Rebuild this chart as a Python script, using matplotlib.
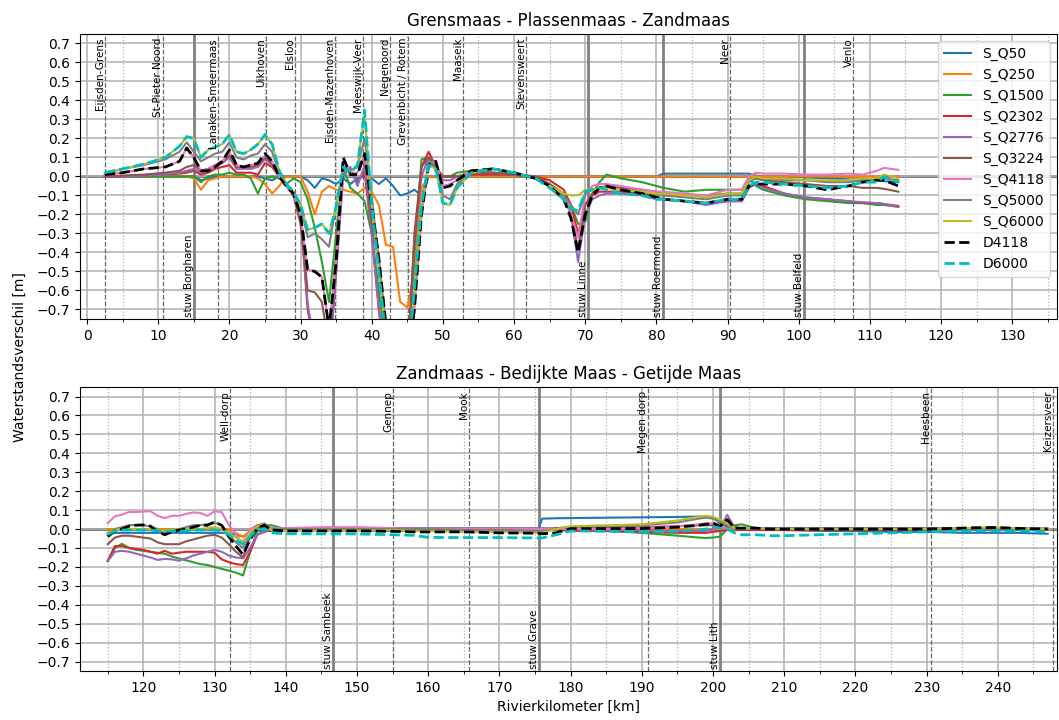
import numpy as np
import matplotlib
matplotlib.use('Agg')
import matplotlib.pyplot as plt
from matplotlib.ticker import MultipleLocator

# rivierkilometers of the output points, upper panel (Grensmaas - Zandmaas)
km_top = [2.5, 5, 8, 11, 13, 14, 15, 16, 17, 18,
          19, 20, 21, 22, 23, 24, 25, 26, 27, 28,
          29, 30, 31, 32, 33, 34, 35, 36, 37, 38,
          39, 40, 41, 42, 43, 44, 45, 46, 47, 48,
          49, 50, 51, 52, 54, 57, 60, 63, 65, 67,
          68, 69, 70, 71, 72, 73, 75, 78, 80, 81,
          84, 87, 90, 92, 93, 94, 95, 98, 101, 104,
          107, 109, 111, 112, 114]

top_q50 = [0, 0, 0, 0, 0, 0, 0, -0.02, -0.01, 0,
           0, 0, 0, 0, 0, 0, -0.01, -0.02, 0, 0,
           0, 0, -0.02, -0.06, -0.01, -0.02, -0.04, -0.01, -0.04, -0.01,
           0, -0.01, -0.04, -0.01, -0.05, -0.1, -0.09, -0.07, -0.1, 0,
           0, 0, 0, 0, 0, 0, 0, 0, 0, 0,
           0, 0, 0, 0, 0, 0, 0, 0, 0, 0.015,
           0.015, 0.015, 0.015, 0.015, 0.015, 0.005, 0, 0, -0.005, -0.01,
           -0.015, -0.02, -0.02, -0.025, -0.03]
top_q250 = [0, 0, 0, 0, 0, 0, -0.01, -0.07, -0.02, -0.01,
            0, 0, 0, 0, 0, -0.01, -0.04, -0.09, -0.05, 0,
            0, 0, -0.08, -0.2, -0.08, -0.05, -0.07, -0.07, -0.08, -0.09,
            -0.06, -0.08, -0.15, -0.36, -0.37, -0.66, -0.69, -0.5, -0.06, 0,
            0, 0, 0, 0, 0, 0, 0, 0, 0, 0,
            0, 0, 0, 0, 0, 0, 0, 0, 0, 0,
            0, 0, 0, 0, 0, 0, 0, 0, 0, 0,
            0, 0, 0, 0, 0]
top_q1500 = [0, 0, 0, 0, 0, 0, 0, -0.03, 0, 0.01,
             0.01, 0.02, 0.01, 0.01, -0.01, -0.09, -0.01, 0, -0.01, -0.04,
             -0.01, -0.03, -0.12, -0.27, -0.45, -0.66, -0.3, 0.05, -0.06, -0.09,
             -0.13, -0.3, -0.6, -0.9, -1.0, -1.0, -1.0, -0.4, 0.09, 0.1,
             0.03, 0, 0, 0.02, 0.03, 0.02, 0.01, -0.01, -0.04, -0.09,
             -0.15, -0.25, -0.24, -0.09, -0.03, 0.01, -0.01, -0.03, -0.05, -0.06,
             -0.08, -0.07, -0.07, -0.07, -0.01, -0.05, -0.07, -0.1, -0.12, -0.13,
             -0.14, -0.14, -0.15, -0.15, -0.16]
top_q2302 = [0, 0, 0.005, 0.01, 0.015, 0.02, 0.03, 0.01, 0.02, 0.04,
             0.05, 0.06, 0.02, 0.02, 0.02, 0.01, 0.07, 0.05, 0, -0.05,
             -0.08, -0.2, -0.7, -0.9, -1.0, -1.0, -0.5, 0.05, 0.03, -0.03,
             0.02, -0.3, -0.7, -1.0, -1.0, -1.0, -1.0, -0.3, 0.05, 0.13,
             0.05, 0, 0, 0, 0.01, 0.01, 0.01, 0, -0.02, -0.07,
             -0.15, -0.3, -0.15, -0.1, -0.08, -0.08, -0.08, -0.09, -0.11, -0.12,
             -0.13, -0.14, -0.13, -0.13, -0.06, -0.03, -0.05, -0.09, -0.11, -0.12,
             -0.13, -0.14, -0.14, -0.145, -0.155]
top_q2776 = [0, 0, 0.005, 0.01, 0.02, 0.03, 0.04, 0.02, 0.03, 0.05,
             0.07, 0.1, 0.04, 0.04, 0.04, 0.05, 0.09, 0.06, 0, -0.05,
             -0.09, -0.2, -0.67, -0.9, -1.0, -1.0, -0.5, 0.0, 0.05, -0.05,
             0.06, -0.3, -0.7, -1.0, -1.0, -1.0, -1.0, -0.35, 0.0, 0.1,
             0.05, -0.02, -0.02, 0, 0.02, 0.02, 0.01, 0, -0.04, -0.1,
             -0.2, -0.45, -0.2, -0.12, -0.1, -0.09, -0.09, -0.1, -0.12, -0.12,
             -0.13, -0.15, -0.13, -0.13, -0.05, -0.04, -0.06, -0.09, -0.11, -0.12,
             -0.13, -0.135, -0.14, -0.145, -0.16]
top_q3224 = [0, 0.005, 0.01, 0.02, 0.03, 0.05, 0.06, 0.03, 0.04, 0.06,
             0.08, 0.11, 0.05, 0.05, 0.05, 0.06, 0.1, 0.07, 0, -0.05,
             -0.1, -0.25, -0.6, -0.61, -0.66, -0.9, -0.4, 0.05, 0.03, 0.05,
             0.1, -0.25, -0.45, -0.9, -1.0, -1.0, -1.0, -0.35, 0.05, 0.1,
             0.05, 0, 0, 0, 0.02, 0.02, 0.01, 0, -0.04, -0.1,
             -0.2, -0.38, -0.15, -0.09, -0.06, -0.05, -0.06, -0.07, -0.08, -0.09,
             -0.1, -0.1, -0.09, -0.09, -0.02, -0.01, -0.02, -0.03, -0.04, -0.05,
             -0.05, -0.06, -0.06, -0.065, -0.08]
top_q4118 = [0.01, 0.02, 0.04, 0.05, 0.08, 0.15, 0.1, 0.03, 0.04, 0.06,
             0.08, 0.13, 0.06, 0.05, 0.06, 0.07, 0.11, 0.08, 0.0, -0.05,
             -0.09, -0.2, -0.49, -0.5, -0.53, -0.8, -0.45, 0.08, 0.02, 0.02,
             0.1, -0.15, -0.43, -0.78, -1.0, -1.0, -1.0, -0.7, -0.2, 0.07,
             0.08, -0.05, -0.04, -0.02, 0.03, 0.04, 0.02, -0.01, -0.05, -0.11,
             -0.2, -0.32, -0.1, -0.05, -0.04, -0.04, -0.05, -0.07, -0.08, -0.08,
             -0.09, -0.1, -0.07, -0.07, 0.0, 0.02, 0.015, 0.015, 0.01, 0.01,
             0.015, 0.01, 0.03, 0.045, 0.035]
top_q5000 = [0.015, 0.04, 0.06, 0.09, 0.13, 0.18, 0.13, 0.08, 0.1, 0.12,
             0.13, 0.18, 0.1, 0.09, 0.11, 0.12, 0.17, 0.13, 0.02, -0.04,
             -0.08, -0.15, -0.32, -0.3, -0.33, -0.37, -0.15, 0.05, 0.03, 0.05,
             0.2, -0.1, -0.45, -0.8, -1.0, -1.0, -1.0, -0.6, -0.15, 0.08,
             0.06, -0.1, -0.12, -0.04, 0.02, 0.04, 0.02, -0.01, -0.05, -0.1,
             -0.15, -0.2, -0.09, -0.07, -0.06, -0.06, -0.07, -0.08, -0.1, -0.1,
             -0.11, -0.12, -0.1, -0.1, -0.03, -0.01, -0.01, -0.02, -0.02, -0.03,
             -0.03, -0.02, -0.02, -0.01, -0.02]
top_q6000 = [0.02, 0.04, 0.065, 0.1, 0.16, 0.21, 0.2, 0.1, 0.14, 0.155,
             0.17, 0.22, 0.13, 0.12, 0.14, 0.17, 0.22, 0.17, 0.03, -0.04,
             -0.08, -0.15, -0.28, -0.27, -0.25, -0.3, -0.16, 0.05, 0.02, 0.06,
             0.33, -0.15, -0.5, -0.85, -1.0, -1.0, -1.0, -0.6, -0.15, 0.06,
             0.04, -0.14, -0.15, -0.06, 0.02, 0.04, 0.02, -0.01, -0.05, -0.09,
             -0.1, -0.1, -0.07, -0.07, -0.06, -0.06, -0.07, -0.08, -0.09, -0.09,
             -0.1, -0.11, -0.09, -0.09, -0.02, 0.0, -0.01, -0.01, -0.02, -0.02,
             -0.02, -0.01, -0.01, 0.01, -0.01]
top_d4118 = [0.01, 0.02, 0.04, 0.05, 0.08, 0.15, 0.1, 0.03, 0.03, 0.05,
             0.08, 0.14, 0.06, 0.05, 0.06, 0.07, 0.12, 0.08, 0.0, -0.05,
             -0.09, -0.2, -0.49, -0.5, -0.53, -0.8, -0.45, 0.1, 0.01, 0.01,
             0.12, -0.15, -0.43, -0.78, -1.0, -1.0, -1.0, -0.7, -0.2, 0.06,
             0.08, -0.06, -0.05, -0.02, 0.03, 0.04, 0.02, -0.01, -0.05, -0.12,
             -0.22, -0.4, -0.2, -0.1, -0.06, -0.05, -0.07, -0.09, -0.11, -0.12,
             -0.13, -0.14, -0.12, -0.12, -0.05, -0.04, -0.04, -0.04, -0.05, -0.07,
             -0.05, -0.03, -0.02, -0.02, -0.05]
top_d6000 = [0.02, 0.04, 0.065, 0.1, 0.16, 0.21, 0.2, 0.1, 0.14, 0.155,
             0.17, 0.22, 0.13, 0.12, 0.14, 0.17, 0.22, 0.17, 0.03, -0.04,
             -0.08, -0.15, -0.28, -0.27, -0.25, -0.3, -0.16, 0.05, 0.02, 0.06,
             0.35, -0.15, -0.5, -0.85, -1.0, -1.0, -1.0, -0.6, -0.15, 0.06,
             0.04, -0.14, -0.15, -0.06, 0.02, 0.04, 0.02, -0.01, -0.06, -0.12,
             -0.17, -0.18, -0.08, -0.07, -0.06, -0.07, -0.09, -0.1, -0.12, -0.12,
             -0.13, -0.14, -0.12, -0.12, -0.05, -0.03, -0.03, -0.04, -0.05, -0.06,
             -0.05, -0.03, -0.03, 0.0, -0.03]

# lower panel (Zandmaas - Getijde Maas)
km_bot = [115, 116, 117, 118, 119, 120, 121, 122, 123, 124,
          125, 126, 127, 128, 129, 130, 131, 132, 133, 134,
          135, 136, 137, 138, 140, 145, 150, 155, 158, 160,
          165, 170, 175, 175.5, 176, 178, 180, 185, 190, 195,
          198, 199, 200, 201, 202, 203, 204, 206, 208, 210,
          215, 220, 225, 230, 235, 238, 240, 243, 247]

bot_q50 = [-0.02, -0.02, -0.02, -0.02, -0.02, -0.02, -0.02, -0.02, -0.02, -0.02,
           -0.02, -0.02, -0.02, -0.02, -0.02, -0.02, -0.02, -0.02, -0.03, -0.04,
           -0.02, -0.01, -0.01, -0.01, -0.01, -0.01, -0.01, -0.01, -0.01, -0.01,
           -0.01, -0.01, -0.005, 0.0, 0.055, 0.057, 0.058, 0.06, 0.062, 0.064,
           0.066, 0.066, 0.06, 0.03, 0.01, 0.0, 0.0, 0.0, -0.005, -0.005,
           -0.01, -0.01, -0.015, -0.015, -0.02, -0.02, -0.02, -0.02, -0.025]
bot_q250 = [0, 0, 0, 0, 0, 0, 0, 0, 0, 0,
            0, 0, 0, 0, 0, 0, 0, 0, -0.02, -0.04,
            -0.01, 0.01, 0.01, 0, 0, 0, 0, 0, 0, 0,
            0, 0, 0, 0, 0, 0, 0, 0, 0, 0,
            0, 0, 0, 0, 0, 0, 0, 0, 0, 0,
            0, 0, 0, 0, 0, 0, 0, 0, 0]
bot_q1500 = [-0.165, -0.1, -0.078, -0.1, -0.11, -0.115, -0.12, -0.125, -0.13, -0.145,
             -0.155, -0.165, -0.175, -0.185, -0.19, -0.2, -0.21, -0.22, -0.23, -0.245,
             -0.12, -0.01, 0.02, 0.02, 0.0, 0.0, 0.0, 0.0, 0.0, -0.005,
             -0.005, -0.005, -0.005, -0.005, -0.005, -0.005, 0.0, -0.01, -0.02, -0.035,
             -0.045, -0.047, -0.045, -0.04, 0.0, 0.02, 0.025, 0.005, 0.0, 0.0,
             0, 0, 0, 0, 0, 0, 0, 0, 0]
bot_q2302 = [-0.17, -0.09, -0.09, -0.1, -0.105, -0.11, -0.12, -0.13, -0.115, -0.13,
             -0.125, -0.12, -0.12, -0.12, -0.12, -0.125, -0.16, -0.175, -0.185, -0.19,
             -0.12, -0.03, -0.015, -0.005, 0.0, 0.0, 0.0, 0.0, 0.0, 0.0,
             0.0, 0.0, 0.0, 0.0, 0.0, -0.005, -0.01, -0.01, -0.015, -0.02,
             -0.02, -0.02, -0.015, -0.01, -0.005, -0.005, -0.005, -0.005, -0.005, -0.005,
             -0.005, -0.005, -0.005, -0.005, 0.0, 0.0, 0.0, 0.0, 0.0]
bot_q2776 = [-0.17, -0.12, -0.115, -0.12, -0.13, -0.14, -0.15, -0.163, -0.158, -0.16,
             -0.167, -0.155, -0.14, -0.13, -0.12, -0.11, -0.12, -0.14, -0.15, -0.155,
             -0.1, -0.03, -0.01, 0.0, 0.005, 0.005, 0.005, 0.005, 0.005, 0.005,
             0.005, 0.005, 0.005, 0.005, 0.005, 0.0, 0.0, -0.005, -0.005, -0.01,
             -0.01, -0.01, 0.0, 0.01, 0.075, 0.01, 0.0, 0.0, 0.0, 0.0,
             0, 0, 0, 0, 0, 0, 0, 0, 0]
bot_q3224 = [-0.08, -0.045, -0.035, -0.035, -0.04, -0.045, -0.05, -0.07, -0.08, -0.08,
             -0.08, -0.065, -0.055, -0.045, -0.035, -0.03, -0.045, -0.08, -0.12, -0.15,
             -0.04, 0.012, 0.015, 0.005, 0.005, 0.005, 0.005, 0.005, 0.0, 0.0,
             0.0, 0.0, 0.0, 0.0, 0.0, 0.005, 0.01, 0.01, 0.01, 0.015,
             0.02, 0.02, 0.02, 0.02, 0.02, 0.01, 0.005, 0.005, 0.0, 0.0,
             0, 0, 0, 0, 0, 0, 0, 0, 0]
bot_q4118 = [0.032, 0.067, 0.076, 0.09, 0.09, 0.092, 0.094, 0.07, 0.058, 0.07,
             0.07, 0.08, 0.088, 0.085, 0.07, 0.094, 0.09, 0.023, -0.03, -0.08,
             0.0, 0.02, 0.02, 0.005, 0.005, 0.01, 0.01, 0.005, 0.0, 0.0,
             0.0, 0.0, 0.0, 0.0, 0.0, 0.0, 0.0, 0.0, 0.005, 0.015,
             0.025, 0.03, 0.03, 0.02, 0.0, 0.0, 0.005, 0.005, 0.005, 0.005,
             0.005, 0.005, 0.005, 0.005, 0.005, 0.005, 0.005, 0.005, 0.005]
bot_q5000 = [-0.03, 0.0, 0.01, 0.02, 0.022, 0.02, 0.015, 0.0, -0.02, -0.01,
             0.0, 0.01, 0.02, 0.02, 0.025, 0.035, 0.02, -0.03, -0.07, -0.1,
             -0.03, 0.02, 0.03, 0.0, 0.0, 0.0, 0.0, 0.0, 0.0, 0.0,
             -0.005, -0.005, -0.01, -0.01, -0.01, 0.0, 0.01, 0.015, 0.02, 0.035,
             0.055, 0.06, 0.055, 0.04, 0.02, 0.0, 0.0, 0.005, 0.005, 0.005,
             0.005, 0.005, 0.005, 0.005, 0.005, 0.005, 0.005, 0.005, 0.0]
bot_q6000 = [-0.02, -0.005, 0.0, 0.0, 0.0, 0.0, 0.0, -0.005, -0.01, -0.005,
             0.0, 0.0, 0.0, 0.0, 0.005, 0.01, 0.0, -0.02, -0.045, -0.065,
             -0.02, 0.015, 0.025, -0.005, -0.01, -0.01, -0.01, -0.005, -0.01, -0.01,
             -0.015, -0.015, -0.02, -0.02, -0.02, 0.0, 0.015, 0.02, 0.025, 0.045,
             0.065, 0.07, 0.065, 0.05, 0.03, 0.005, 0.005, 0.005, 0.0, 0.0,
             0.0, 0.0, 0.0, 0.0, 0.005, 0.008, 0.008, 0.003, 0.0]
bot_d4118 = [-0.04, -0.01, 0.0, 0.015, 0.02, 0.022, 0.015, -0.015, -0.03, -0.015,
             -0.005, 0.0, 0.01, 0.02, 0.02, 0.037, 0.02, -0.04, -0.09, -0.135,
             -0.055, 0.005, 0.02, -0.005, -0.01, -0.01, -0.01, -0.012, -0.015, -0.015,
             -0.015, -0.02, -0.022, -0.022, -0.025, -0.02, 0.002, 0.002, 0.003, 0.01,
             0.02, 0.025, 0.032, 0.015, 0.05, 0.005, 0.005, 0.005, 0.0, 0.0,
             0.0, 0.0, 0.0, 0.0, 0.005, 0.008, 0.008, 0.003, 0.0]
bot_d6000 = [-0.03, -0.01, -0.005, -0.005, -0.005, -0.005, -0.005, -0.01, -0.01, -0.01,
             -0.01, -0.01, -0.005, -0.005, -0.005, -0.005, -0.01, -0.03, -0.06, -0.08,
             -0.04, 0.0, 0.0, -0.02, -0.025, -0.025, -0.026, -0.03, -0.033, -0.044,
             -0.045, -0.045, -0.047, -0.047, -0.047, -0.03, -0.01, -0.012, -0.015, -0.012,
             -0.005, 0.0, 0.01, 0.005, 0.0, -0.02, -0.03, -0.03, -0.035, -0.035,
             -0.03, -0.025, -0.02, -0.015, -0.01, -0.01, -0.01, -0.01, -0.015]

# locations (dashed) and weirs (solid)
places_top = [('Eijsden-Grens', 2.5), ('St-Pieter Noord', 10.7), ('Lanaken-Smeermaas', 18.4),
              ('Uikhoven', 25.2), ('Elsloo', 29.2), ('Eisden-Mazenhoven', 34.9),
              ('Meeswijk-Veer', 38.8), ('Negenoord', 42.5), ('Grevenbicht / Rotem', 45.1),
              ('Maaseik', 52.8), ('Stevensweert', 61.7), ('Neer', 90.3), ('Venlo', 107.7)]
weirs_top = [('stuw Borgharen', 15.0), ('stuw Linne', 70.4), ('stuw Roermond', 81.0),
             ('stuw Belfeld', 100.8)]
places_bot = [('Well-dorp', 132.2), ('Gennep', 155.1), ('Mook', 165.8),
              ('Megen dorp', 190.8), ('Heesbeen', 230.6), ('Keizersveer', 247.8)]
weirs_bot = [('stuw Sambeek', 146.6), ('stuw Grave', 175.6), ('stuw Lith', 201.0)]

labels = ['S_Q50', 'S_Q250', 'S_Q1500', 'S_Q2302', 'S_Q2776', 'S_Q3224',
          'S_Q4118', 'S_Q5000', 'S_Q6000', 'D4118', 'D6000']
top_series = [top_q50, top_q250, top_q1500, top_q2302, top_q2776, top_q3224,
              top_q4118, top_q5000, top_q6000, top_d4118, top_d6000]
bot_series = [bot_q50, bot_q250, bot_q1500, bot_q2302, bot_q2776, bot_q3224,
              bot_q4118, bot_q5000, bot_q6000, bot_d4118, bot_d6000]
line_fmt = ['C0-', 'C1-', 'C2-', 'C3-', 'C4-', 'C5-', 'C6-', 'C7-', 'C8-', 'k--', 'c--']


def draw_panel(ax, km, series, places, weirs, xlim, title):
    ax.axhline(0, color='gray', lw=2.2, zorder=1.5)
    for name, x in places:
        ax.axvline(x, color='0.4', ls='--', lw=0.9, zorder=1.6)
        ax.text(x, 0.73, name, rotation=90, ha='right', va='top', fontsize=7.5)
    for name, x in weirs:
        ax.axvline(x, color='gray', lw=2, zorder=1.6)
        ax.text(x, -0.74, name, rotation=90, ha='right', va='bottom', fontsize=7.5)
    for vals, fmt, lab in zip(series, line_fmt, labels):
        lw = 2 if '--' in fmt else 1.5
        ax.plot(km, vals, fmt, lw=lw, label=lab)
    ax.set_xlim(xlim)
    ax.set_ylim(-0.75, 0.75)
    ax.set_yticks(np.round(np.arange(-0.7, 0.71, 0.1), 1))
    ax.xaxis.set_major_locator(MultipleLocator(10))
    ax.xaxis.set_minor_locator(MultipleLocator(5))
    ax.grid(True, which='major', color='#b0b0b0', lw=1.1)
    ax.grid(True, which='minor', axis='x', color='#b0b0b0', ls=':', lw=0.9)
    ax.set_title(title, fontsize=12)


fig = plt.figure(figsize=(10.59, 7.2), dpi=100)
ax1 = fig.add_axes([0.0755, 0.557, 0.9226, 0.3958])
ax2 = fig.add_axes([0.0755, 0.068, 0.9226, 0.3944])

draw_panel(ax1, km_top, top_series, places_top, weirs_top, (-1.0, 136.3),
           'Grensmaas - Plassenmaas - Zandmaas')
draw_panel(ax2, km_bot, bot_series, places_bot, weirs_bot, (111.1, 248.3),
           'Zandmaas - Bedijkte Maas - Getijde Maas')

ax1.legend(loc='upper right')
ax2.set_xlabel('Rivierkilometer [km]')
fig.text(0.019, 0.504, 'Waterstandsverschil [m]', rotation=90, ha='center', va='center', fontsize=10)

fig.savefig('out.png', dpi=100)
